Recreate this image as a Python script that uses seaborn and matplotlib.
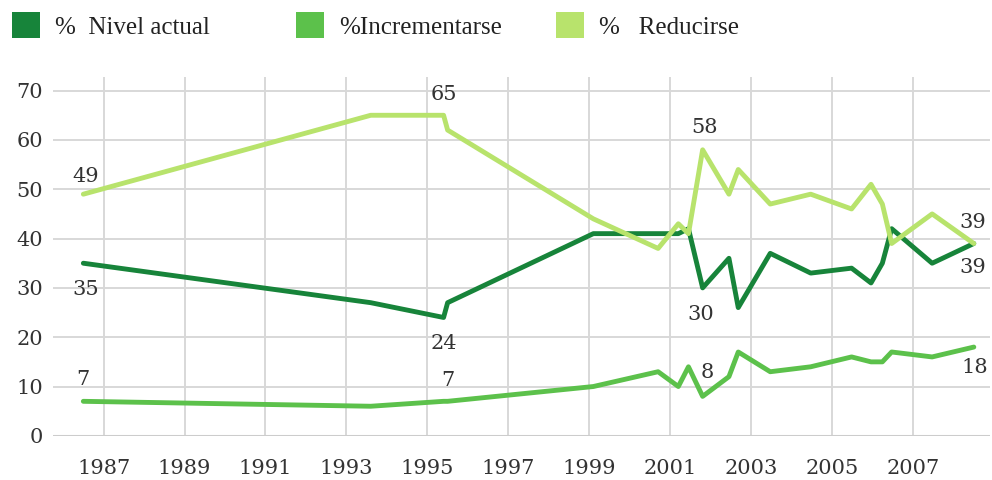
import pandas as pd
import numpy as np
import matplotlib.pyplot as plt
import seaborn as sns
from matplotlib.patches import Patch

# datos (encuesta, % por fecha)
years = [1986.5, 1993.6, 1995.4, 1995.5, 1999.1, 2000.7, 2001.2, 2001.45, 2001.8,
         2002.45, 2002.68, 2003.47, 2004.47, 2005.48, 2005.96, 2006.24, 2006.47,
         2007.47, 2008.5]
nivel_actual = [35, 27, 24, 27, 41, 41, 41, 42, 30, 36, 26, 37, 33, 34, 31, 35, 42, 35, 39]
incrementarse = [7, 6, 7, 7, 10, 13, 10, 14, 8, 12, 17, 13, 14, 16, 15, 15, 17, 16, 18]
reducirse = [49, 65, 65, 62, 44, 38, 43, 41, 58, 49, 54, 47, 49, 46, 51, 47, 39, 45, 39]

series_names = ['%  Nivel actual', '%Incrementarse', '%   Reducirse']
colors = ['#17843a', '#5cc14b', '#b8e36c']
x_ticks = list(range(1987, 2008, 2))
y_ticks = list(range(0, 71, 10))

df = pd.DataFrame({
    'year': years * 3,
    'value': nivel_actual + incrementarse + reducirse,
    'serie': [series_names[0]] * len(years) + [series_names[1]] * len(years) + [series_names[2]] * len(years),
})

sns.set_style('whitegrid')
plt.rcParams['font.family'] = ['DejaVu Serif']

fig = plt.figure(figsize=(9.92, 4.8), dpi=100)
ax = fig.add_axes([0.053, 0.092, 0.945, 0.748])

sns.lineplot(data=df, x='year', y='value', hue='serie', palette=colors,
             hue_order=series_names, linewidth=3.5, legend=False, ax=ax, sort=False)

ax.set_xlim(1985.74, 2008.9)
ax.set_ylim(0, 72.8)
ax.set_xticks(x_ticks)
ax.set_yticks(y_ticks)
ax.set_xlabel('')
ax.set_ylabel('')
ax.grid(True, color='#d8d8d8', linewidth=1.4)
for s in ax.spines.values():
    s.set_visible(False)
ax.axhline(0, color='#cccccc', linewidth=2.2, zorder=1)
ax.tick_params(axis='both', length=0, labelsize=15, colors='#333333')
ax.tick_params(axis='x', pad=17)
ax.tick_params(axis='y', pad=7)

# etiquetas de valores
def label(serie, idx, dy, dx=0):
    ax.annotate(str(serie[idx]), (years[idx], serie[idx]), xytext=(dx, dy),
                textcoords='offset points', ha='center', va='center',
                fontsize=15, color='#333333')

label(reducirse, 0, 13, 2)
label(nivel_actual, 0, -19, 2)
label(incrementarse, 0, 16, 0)
label(reducirse, 2, 15, 0)
label(nivel_actual, 2, -19, 0)
label(incrementarse, 3, 15, 0)
label(reducirse, 8, 16, 1)
label(nivel_actual, 8, -19, -1)
label(incrementarse, 8, 17, 3)
label(reducirse, 18, 15, -1)
label(nivel_actual, 18, -17, -1)
label(incrementarse, 18, -15, 1)

# leyenda: una entrada por posición, como en el original
legend_x = [12, 296, 556]
for name, c, lx in zip(series_names, colors, legend_x):
    fig.legend([Patch(facecolor=c, edgecolor='none')], [name], loc='upper left',
               bbox_to_anchor=(lx / 992, 1 - 12 / 480), frameon=False,
               prop={'family': 'Liberation Serif', 'size': 18},
               handlelength=1.12, handleheight=1.25, handletextpad=0.6,
               borderpad=0, borderaxespad=0, labelcolor='#222222')

fig.savefig('out.png', dpi=100)
